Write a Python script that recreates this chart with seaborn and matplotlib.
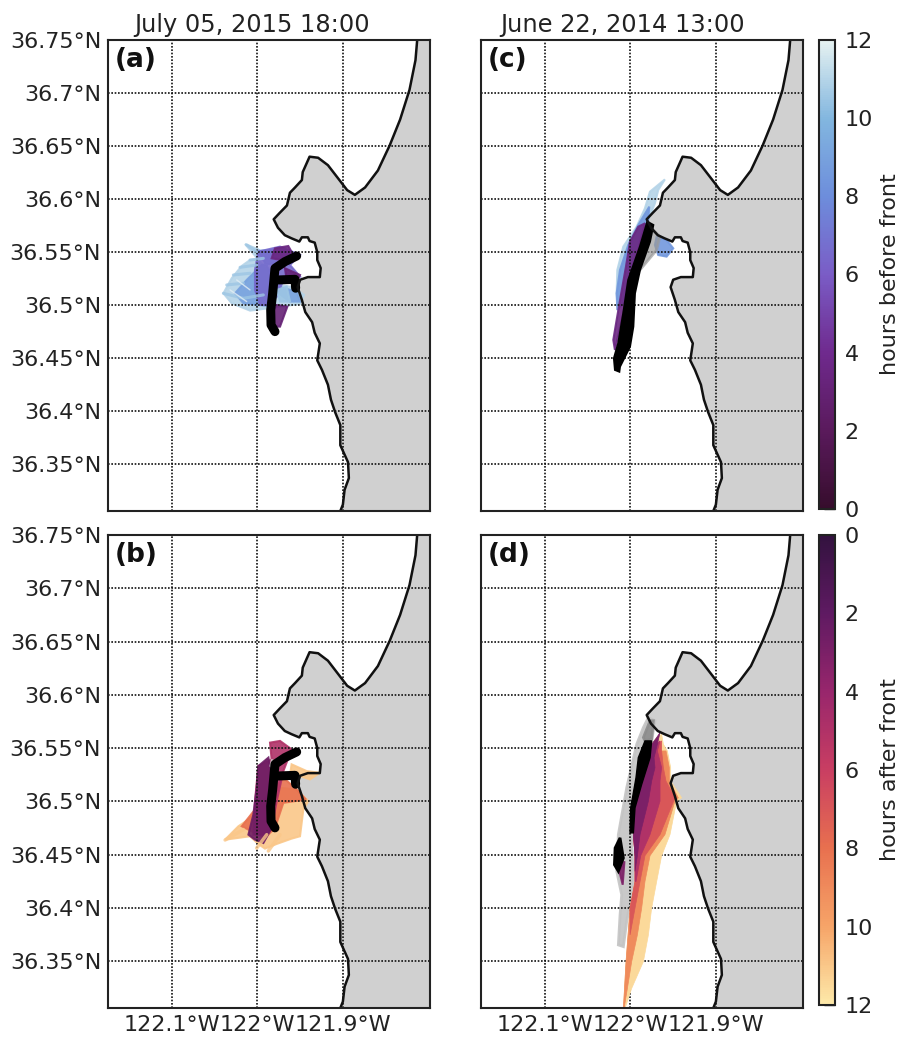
import numpy as np
import matplotlib
matplotlib.use("Agg")
import matplotlib.pyplot as plt
from matplotlib.colors import LinearSegmentedColormap, Normalize
from matplotlib.cm import ScalarMappable
import seaborn as sns

# coastline
coast_lon = [-121.813, -121.815, -121.822, -121.833, -121.845, -121.859, -121.874, -121.886, -121.895, -121.906,
             -121.9175, -121.929, -121.939, -121.947, -121.948, -121.956, -121.962, -121.9655, -121.974, -121.981,
             -121.976, -121.968, -121.96, -121.951, -121.948, -121.941, -121.939, -121.933, -121.93, -121.93,
             -121.926, -121.927, -121.941, -121.95, -121.953, -121.948, -121.944, -121.936, -121.933, -121.927,
             -121.93, -121.9245, -121.9175, -121.914, -121.909, -121.903, -121.903, -121.894, -121.893, -121.898,
             -121.90, -121.903]
coast_lat = [36.75, 36.731, 36.703, 36.675, 36.651, 36.627, 36.611, 36.604, 36.6085, 36.62,
             36.632, 36.639, 36.64, 36.6255, 36.618, 36.611, 36.606, 36.594, 36.587, 36.581,
             36.573, 36.566, 36.563, 36.56, 36.564, 36.564, 36.5605, 36.559, 36.55, 36.5425,
             36.535, 36.5265, 36.5265, 36.524, 36.517, 36.505, 36.4935, 36.484, 36.474, 36.464,
             36.448, 36.439, 36.425, 36.411, 36.399, 36.387, 36.368, 36.352, 36.337, 36.326,
             36.312, 36.306]

lon_ticks = [-122.1, -122.0, -121.9]
lon_labels = ["122.1°W", "122°W", "121.9°W"]
lat_ticks = [36.35, 36.4, 36.45, 36.5, 36.55, 36.6, 36.65, 36.7, 36.75]
lat_labels = ["36.35°N", "36.4°N", "36.45°N", "36.5°N", "36.55°N", "36.6°N", "36.65°N", "36.7°N", "36.75°N"]
before_ticks = [0, 2, 4, 6, 8, 10, 12]

# plume outlines as (hours, lon, lat), drawn oldest first
plume_a = [
    (11, [-122.0146, -121.999, -121.9892, -122.0087, -122.0184, -122.0302, -122.0399, -122.0302, -122.0087, -121.9873, -121.9502, -121.9455, -121.958, -121.9736],
     [36.5577, 36.5527, 36.5442, 36.5426, 36.537, 36.5254, 36.5112, 36.5018, 36.4949, 36.4971, 36.5012, 36.5097, 36.5169, 36.5191]),
    (9, [-121.999, -121.9736, -121.9795, -121.9951, -122.0126, -122.0263, -122.0165, -121.9873, -121.9755, -121.9619, -121.9502, -121.9541, -121.9755],
     [36.5514, 36.5521, 36.5395, 36.5379, 36.5238, 36.5112, 36.5018, 36.4993, 36.5112, 36.5034, 36.5034, 36.5128, 36.5175]),
    (6.6, [-121.999, -121.9736, -121.9502, -121.9619, -121.9502, -121.9697, -121.9775, -121.9873, -121.997, -122.0029, -122.0029],
     [36.5505, 36.5552, 36.5474, 36.5379, 36.5269, 36.5238, 36.508, 36.5002, 36.5002, 36.5144, 36.5332]),
    (10.5, [-121.9775, -121.9658, -121.9619, -121.9736], [36.5144, 36.5175, 36.5034, 36.5034]),
    (3.5, [-121.9795, -121.9639, -121.958, -121.9717, -121.9834], [36.5536, 36.5558, 36.5474, 36.5426, 36.5442]),
    (3, [-121.9678, -121.9502, -121.9541, -121.9658], [36.5348, 36.5285, 36.5222, 36.5238]),
    (3, [-121.9775, -121.965, -121.9736, -121.9814, -121.9814], [36.5002, 36.4987, 36.4798, 36.4798, 36.4955]),
]
plume_c = [
    (11, [-121.9597, -121.9675, -121.9714, -121.9792, -121.9889, -121.9987, -122.0065, -122.0143, -122.0162, -122.0154, -122.0084, -121.9928, -121.9831, -121.9772],
     [36.6186, 36.6086, 36.596, 36.5803, 36.5583, 36.5363, 36.508, 36.4955, 36.5112, 36.5332, 36.5552, 36.574, 36.5913, 36.607]),
    (8.5, [-121.978, -121.9792, -121.9889, -122.0006, -122.0084, -122.0154, -122.0162, -122.0123, -122.0026, -121.9909],
     [36.5929, 36.5803, 36.5583, 36.5332, 36.5018, 36.4955, 36.5112, 36.5332, 36.5568, 36.5756]),
    (3.5, [-121.983, -121.9889, -121.9987, -122.0084, -122.0182, -122.0201, -122.0162, -122.0115, -122.0053, -122.0006, -121.9909],
     [36.5772, 36.5583, 36.5269, 36.4924, 36.4578, 36.4673, 36.4861, 36.5081, 36.5363, 36.5599, 36.574]),
    (8.5, [-121.9694, -121.9577, -121.9499, -121.9577, -121.9675, -121.9714], [36.5646, 36.5615, 36.5536, 36.5458, 36.5473, 36.5568]),
]
plume_b = [
    (11, [-122.0379, -122.0223, -122.0048, -121.9736, -121.9541, -121.9405, -121.9463, -121.9502, -121.96, -121.9775, -121.9912, -121.999, -122.0087],
     [36.464, 36.4766, 36.486, 36.5127, 36.5111, 36.5001, 36.4923, 36.4672, 36.465, 36.46, 36.4556, 36.46, 36.4672]),
    (11, [-121.96, -121.9424, -121.9268, -121.9385, -121.9502, -121.9619], [36.5347, 36.5284, 36.5268, 36.5206, 36.5237, 36.5253]),
    (8, [-122.0184, -122.0029, -121.9697, -121.9561, -121.9432, -121.9697, -121.9795, -121.9912],
     [36.4766, 36.4923, 36.5221, 36.5127, 36.5017, 36.4986, 36.475, 36.4656]),
    (5, [-121.9853, -121.9736, -121.96, -121.9697, -121.9775, -121.9834, -121.9931, -122.0048, -122.0029, -121.999, -121.9834],
     [36.5551, 36.5567, 36.5488, 36.5284, 36.5, 36.475, 36.4687, 36.4687, 36.5, 36.5331, 36.5394]),
    (2.5, [-121.999, -121.9872, -121.9814, -121.9834, -121.9931, -122.0029, -122.0106, -122.0048, -122.0009],
     [36.5331, 36.541, 36.5158, 36.475, 36.4609, 36.464, 36.4687, 36.4876, 36.5127]),
]

# panel d plume: shared western edge, then (hours, latitude, eastern edge) for each band
d_west_lat = [36.5599, 36.5473, 36.5316, 36.5002, 36.4688, 36.449, 36.4248, 36.3997, 36.3495, 36.3055]
d_west_lon = [-121.9693, -121.981, -121.9908, -121.9966, -121.9966, -121.9947, -121.9947, -122.0005, -122.0052, -122.0083]
bands_d = [
    (11.5, [36.563, 36.5536, 36.5473, 36.5316, 36.519, 36.5033, 36.5002, 36.4688, 36.449, 36.4248, 36.3997, 36.3746, 36.3495, 36.3244, 36.3055],
     [-121.9635, -121.9615, -121.9568, -121.9529, -121.9529, -121.9401, -121.9459, -121.9537, -121.9635, -121.9693, -121.9752, -121.979, -121.9849, -121.9986, -122.0064]),
    (9, [36.5473, 36.5316, 36.519, 36.5033, 36.5002, 36.4688, 36.449, 36.4248, 36.3997, 36.3746, 36.3495, 36.3244, 36.3055],
     [-121.9584, -121.9545, -121.9545, -121.944, -121.9479, -121.9596, -121.9771, -121.983, -121.9869, -121.9919, -121.9986, -122.0036, -122.0075]),
    (7, [36.5567, 36.5473, 36.5316, 36.519, 36.5033, 36.4688, 36.449, 36.4248, 36.3997, 36.3746],
     [-121.9635, -121.9635, -121.9615, -121.9584, -121.9479, -121.9654, -121.983, -121.9888, -121.9947, -122.0005]),
    (5, [36.5567, 36.5473, 36.5316, 36.519, 36.5002, 36.4688, 36.449, 36.4248],
     [-121.9654, -121.9685, -121.9635, -121.9654, -121.9654, -121.9771, -121.988, -121.9935]),
    (3, [36.5646, 36.5536, 36.541, 36.5316, 36.519, 36.5002, 36.4688, 36.449, 36.4343],
     [-121.9654, -121.9685, -121.9724, -121.9713, -121.9752, -121.979, -121.9888, -121.9919, -121.9947]),
]
plume_d_low = [(3, [-122.013, -122.0071, -122.0091], [36.4343, 36.4437, 36.4217])]

# single drifter streaks at the plume edge
streaks_a = [
    ([-122.0399, -122.0165, -121.9931], [36.5112, 36.5065, 36.5097]),
    ([-122.036, -122.0165], [36.5191, 36.5207]),
    ([-122.0282, -122.0087], [36.5285, 36.5301]),
    ([-122.0204, -122.0009], [36.5357, 36.5379]),
    ([-122.0126, -122.0009], [36.5568, 36.5505]),
    ([-122.0087, -121.9931], [36.5426, 36.5442]),
]
gaps_a = [
    ([-122.0321, -122.0126], [36.5144, 36.5034]),
    ([-122.0243, -122.0087], [36.5238, 36.5144]),
]
streaks_b = [
    ([-122.0379, -122.0165], [36.4637, 36.4735]),
    ([-122.0009, -121.9892], [36.4561, 36.4687]),
    ([-121.9873, -121.9736], [36.4534, 36.4687]),
]

# grey part of the plume, older than the colour range
grey_c_lon = [-121.9733, -121.9655, -121.9694, -121.9889, -121.9948]
grey_c_lat = [36.5709, 36.5646, 36.552, 36.5332, 36.5316]
grey_d_lon = [-121.979, -121.9713, -121.9752, -121.9947, -121.9986, -121.9966, -122.0044, -122.0083, -122.0142, -122.0122, -122.0103, -122.0161, -122.0142, -122.0044, -121.9927, -121.9849]
grey_d_lat = [36.5787, 36.5756, 36.5567, 36.5065, 36.4688, 36.4186, 36.3872, 36.3636, 36.3652, 36.3934, 36.4123, 36.4343, 36.4688, 36.5128, 36.5536, 36.5693]
grey_d_top_lon = [-121.9849, -121.9771, -121.9732, -121.9752, -121.983]
grey_d_top_lat = [36.5599, 36.5756, 36.5756, 36.5583, 36.5567]
grey_b_lon = [-121.9834, -121.9775, -121.9795, -121.9853]
grey_b_lat = [36.5394, 36.536, 36.5284, 36.5331]

# front positions
front_a_lon = [-121.9795, -121.9841, -121.9845, -121.9822, -121.9795, -121.9678, -121.9541]
front_a_lat = [36.4751, 36.4814, 36.4955, 36.5112, 36.5348, 36.5411, 36.5464]
branch_a_lon = [-121.9755, -121.9561, -121.9553]
branch_a_lat = [36.5238, 36.5244, 36.516]
front_c_lon = [-121.9803, -121.9733, -121.9772, -121.9889, -121.9948, -121.9967, -122.0006, -122.0123, -122.0131, -122.0181, -122.0193, -122.0143, -122.0084, -122.0026, -121.9889]
front_c_lat = [36.5787, 36.5756, 36.5599, 36.5332, 36.5112, 36.4798, 36.461, 36.4421, 36.4374, 36.439, 36.45, 36.4641, 36.4924, 36.5238, 36.5552]
front_d_lon = [-121.9752, -121.9771, -121.9869, -121.9947, -121.9966, -122.0005, -121.9997, -121.9935, -121.9908, -121.983]
front_d_lat = [36.5567, 36.541, 36.5159, 36.4939, 36.4704, 36.4704, 36.4939, 36.5222, 36.541, 36.5567]
blob_d_lon = [-122.0122, -122.0083, -122.0142, -122.0188, -122.018]
blob_d_lat = [36.4657, 36.4468, 36.4343, 36.4405, 36.4562]

before_cmap = LinearSegmentedColormap.from_list("before", ["#360d2c", "#5a1a5c", "#6f2a8e", "#7a5cc6", "#6d8ddc", "#82b6df", "#e6f2f1"])
after_cmap = LinearSegmentedColormap.from_list("after", ["#33123f", "#5f1a62", "#98266c", "#c93e62", "#e8704f", "#f6a468", "#fde9a9"])
norm = Normalize(0, 12)

sns.set_style("white")
plt.rcParams["font.family"] = ["DejaVu Sans"]

W, H = 903.0, 1042.0
fig = plt.figure(figsize=(W / 100, H / 100), dpi=100)


def make_axes(x0, y0, x1, y1):
    return fig.add_axes([x0 / W, 1 - y1 / H, (x1 - x0) / W, (y1 - y0) / H])


def base_map(ax, letter, show_lat, show_lon):
    ax.set_xlim(-122.175, -121.798)
    ax.set_ylim(36.306, 36.75)
    ax.fill(coast_lon + [-121.798, -121.798], coast_lat + [36.306, 36.75], color="#d0d0d0", lw=0, zorder=1)
    sns.lineplot(x=coast_lon, y=coast_lat, sort=False, estimator=None, color="#111111", lw=1.8, ax=ax, zorder=6)
    ax.set_xticks(lon_ticks)
    ax.set_xticklabels(lon_labels if show_lon else [])
    ax.set_yticks(lat_ticks)
    ax.set_yticklabels(lat_labels if show_lat else [])
    ax.tick_params(length=0, labelsize=16, pad=5, colors="#222222")
    ax.grid(True, color="#111111", ls=(0, (1, 1)), lw=1.2, zorder=4)
    ax.set_axisbelow(False)
    for s in ax.spines.values():
        s.set_linewidth(1.5)
        s.set_color("#222222")
        s.set_zorder(8)
    ax.text(0.02, 0.957, letter, transform=ax.transAxes, fontsize=19, fontweight="bold", va="center", color="#111111", zorder=9)


def draw_plume(ax, layers, cmap):
    for hours, lon, lat in layers:
        ax.fill(lon, lat, color=cmap(norm(hours)), alpha=0.9, lw=1.5, zorder=2)


def draw_streaks(ax, streaks, color, width):
    for lon, lat in streaks:
        sns.lineplot(x=lon, y=lat, sort=False, estimator=None, color=color, lw=width, alpha=0.8, ax=ax, zorder=3)


ax_a = make_axes(108, 40, 430, 511)
ax_b = make_axes(108, 535, 430, 1008)
ax_c = make_axes(481, 40, 803, 511)
ax_d = make_axes(481, 535, 803, 1008)

base_map(ax_a, "(a)", True, False)
base_map(ax_b, "(b)", True, True)
base_map(ax_c, "(c)", False, False)
base_map(ax_d, "(d)", False, True)

ax_a.set_title("July 05, 2015 18:00", fontsize=17.4, pad=6, x=0.447, color="#222222")
ax_c.set_title("June 22, 2014 13:00", fontsize=17.4, pad=6, x=0.441, color="#222222")

draw_plume(ax_a, plume_a, before_cmap)
draw_streaks(ax_a, streaks_a, before_cmap(norm(10.5)), 2.2)
draw_streaks(ax_a, gaps_a, "#e4eff5", 1.0)
draw_plume(ax_c, plume_c, before_cmap)
draw_plume(ax_b, plume_b, after_cmap)
draw_streaks(ax_b, streaks_b, after_cmap(norm(11)), 2.5)
ax_b.fill(grey_b_lon, grey_b_lat, color="#c8c8c8", alpha=0.8, lw=1, zorder=3)

ax_d.fill(grey_d_lon, grey_d_lat, color="#c4c4c4", alpha=0.9, lw=2, zorder=2)
ax_d.fill(grey_d_top_lon, grey_d_top_lat, color="#8c8c8c", alpha=0.9, lw=2, zorder=2)
for hours, band_lat, east_lon in bands_d:
    # close each band back along the part of the western edge it reaches
    west = [(lo, la) for lo, la in zip(d_west_lon, d_west_lat) if min(band_lat) <= la <= max(band_lat)]
    ax_d.fill(east_lon + [p[0] for p in west[::-1]], band_lat + [p[1] for p in west[::-1]],
              color=after_cmap(norm(hours)), lw=0.5, zorder=3)
draw_plume(ax_d, plume_d_low, after_cmap)
ax_c.fill(grey_c_lon, grey_c_lat, color="#9a9a9a", alpha=0.7, lw=2, zorder=3)

for ax in (ax_a, ax_b):
    sns.lineplot(x=front_a_lon, y=front_a_lat, sort=False, estimator=None, color="black", lw=6.5, ax=ax, zorder=5, solid_capstyle="round")
    sns.lineplot(x=branch_a_lon, y=branch_a_lat, sort=False, estimator=None, color="black", lw=6.5, ax=ax, zorder=5, solid_capstyle="round")
ax_c.fill(front_c_lon, front_c_lat, color="black", lw=1.5, zorder=5)
ax_d.fill(front_d_lon, front_d_lat, color="black", lw=1, zorder=5)
ax_d.fill(blob_d_lon, blob_d_lat, color="black", lw=2, zorder=5)

for ax in (ax_a, ax_b, ax_c, ax_d):
    ax.set_xlabel("")
    ax.set_ylabel("")

# colorbars
cax_top = make_axes(819, 40, 835, 509)
cax_bottom = make_axes(819, 535, 835, 1005)
cb_top = fig.colorbar(ScalarMappable(norm=norm, cmap=before_cmap), cax=cax_top, ticks=before_ticks)
cb_bottom = fig.colorbar(ScalarMappable(norm=norm, cmap=after_cmap), cax=cax_bottom, ticks=before_ticks)
cax_bottom.invert_yaxis()
for cb, label in ((cb_top, "hours before front"), (cb_bottom, "hours after front")):
    cb.outline.set_linewidth(1.5)
    cb.outline.set_edgecolor("#222222")
    cb.ax.tick_params(direction="in", length=8, width=1, labelsize=16, pad=7, color="#222222", labelcolor="#222222", right=True)
    cb.set_label(label, fontsize=16, labelpad=5, color="#222222")

fig.savefig("out.png", dpi=100, facecolor="white")
